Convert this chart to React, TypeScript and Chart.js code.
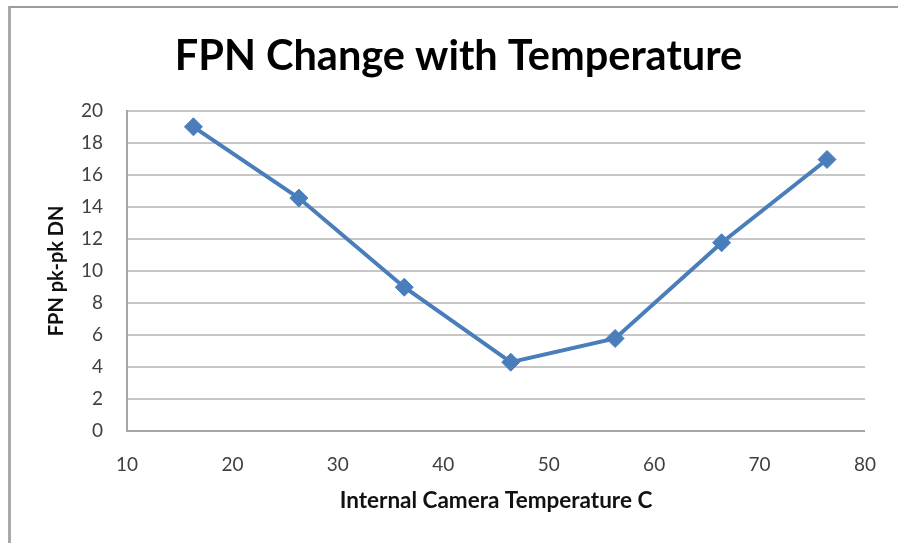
import React, { useEffect, useRef } from "react";
import { Chart, registerables } from "chart.js";

Chart.register(...registerables);

const temperatures = [16.3, 26.3, 36.3, 46.4, 56.3, 66.4, 76.4];
const fpnValues = [19.0, 14.55, 8.98, 4.3, 5.78, 11.76, 16.96];
const chartTitle = "FPN Change with Temperature";
const xAxisTitle = "Internal Camera Temperature C";
const yAxisTitle = "FPN pk-pk DN";

const FONT = "Lato, 'Open Sans', sans-serif";

export default function App() {
  const canvasRef = useRef<HTMLCanvasElement | null>(null);

  useEffect(() => {
    if (!canvasRef.current) return;
    const data = temperatures.map((t, i) => ({ x: t, y: fpnValues[i] }));
    const chart = new Chart(canvasRef.current, {
      type: "scatter",
      data: {
        datasets: [
          {
            label: "FPN",
            data,
            showLine: true,
            borderColor: "#4a7ebb",
            backgroundColor: "#4a7ebb",
            borderWidth: 4,
            pointStyle: "rectRot",
            pointRadius: 9,
            pointBorderWidth: 1,
            pointBackgroundColor: "#4a7ebb",
            pointBorderColor: "#4a7ebb",
          },
        ],
      },
      options: {
        responsive: false,
        animation: false,
        layout: { padding: { left: 45, right: 26, top: 0, bottom: 29 } },
        plugins: {
          legend: { display: false },
          tooltip: { enabled: false },
          title: {
            display: true,
            text: chartTitle,
            color: "#000000",
            font: { family: FONT, size: 41.5, weight: "bold", lineHeight: 1.2 },
            padding: { top: 32, bottom: 29 },
          },
        },
        scales: {
          x: {
            type: "linear",
            min: 10,
            max: 80,
            afterFit: (scale: any) => {
              scale.height = 83;
            },
            ticks: {
              stepSize: 10,
              padding: 22,
              color: "#404040",
              font: { family: FONT, size: 19 },
            },
            grid: { display: false, drawTicks: false },
            border: { display: true, color: "#a6a6a6", width: 2 },
            title: {
              display: true,
              text: xAxisTitle,
              color: "#111111",
              padding: 0,
              font: { family: FONT, size: 22.5, weight: "bold", lineHeight: 1.2 },
            },
          },
          y: {
            type: "linear",
            min: 0,
            max: 20,
            afterFit: (scale: any) => {
              scale.width = 82;
            },
            ticks: {
              stepSize: 2,
              padding: 24,
              color: "#404040",
              font: { family: FONT, size: 19 },
            },
            grid: { display: true, drawTicks: false, color: "#c6c6c6", lineWidth: 2 },
            border: { display: true, color: "#a6a6a6", width: 2 },
            title: {
              display: true,
              text: yAxisTitle,
              color: "#111111",
              padding: 0,
              font: { family: FONT, size: 20, weight: "bold", lineHeight: 1.2 },
            },
          },
        },
      },
    });
    return () => chart.destroy();
  }, []);

  return (
    <div
      style={{
        position: "fixed",
        left: 0,
        top: 0,
        width: 898,
        height: 543,
        background: "#ffffff",
        overflow: "hidden",
      }}
    >
      <div
        style={{
          position: "absolute",
          left: 8,
          top: 6,
          right: -10,
          bottom: -10,
          borderLeft: "3px solid #a9a9a9",
          borderTop: "2px solid #9c9c9c",
        }}
      />
      <canvas
        ref={canvasRef}
        width={898}
        height={543}
        style={{ position: "absolute", left: 0, top: 0, width: 898, height: 543 }}
      />
    </div>
  );
}
